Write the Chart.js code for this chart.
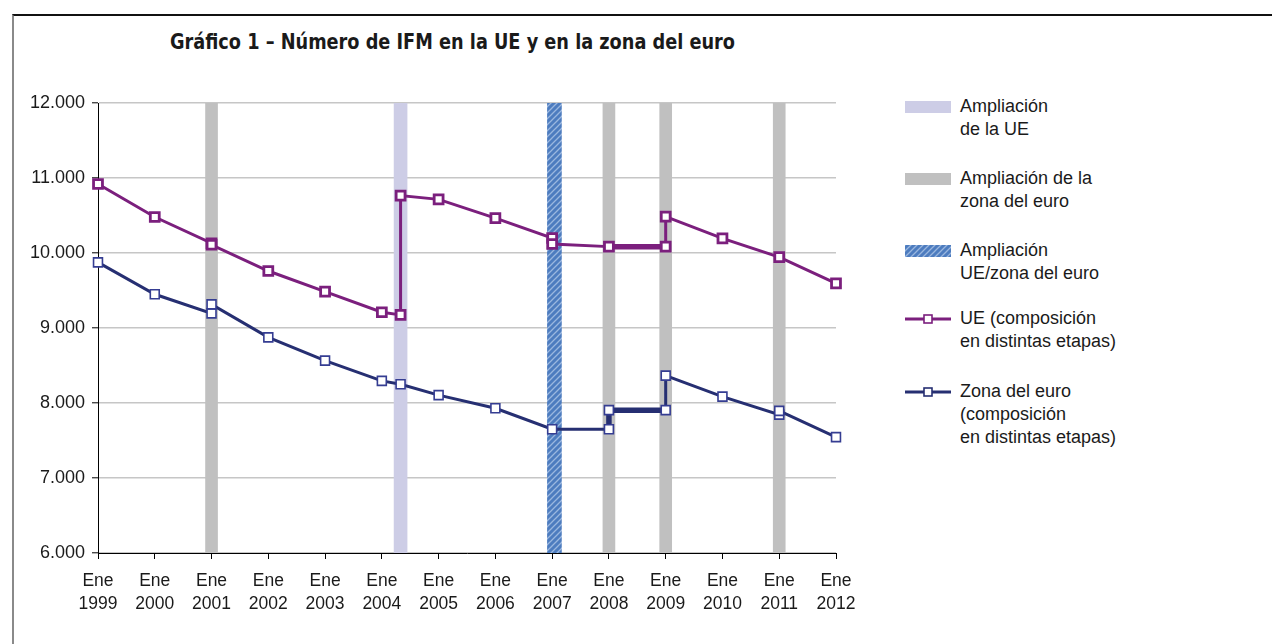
<!DOCTYPE html>
<html>
<head>
<meta charset="utf-8">
<script src="https://cdn.jsdelivr.net/npm/chart.js@4.4.1/dist/chart.umd.min.js"></script>
<style>
  html,body{margin:0;padding:0;background:#fff;}
  body{width:1272px;height:644px;position:relative;overflow:hidden;font-family:"Liberation Sans",Arial,sans-serif;color:#1a1a1a;}
  #frame{position:absolute;left:12px;top:14px;width:1280px;height:700px;border-top:2px solid #111;border-left:2px solid #8a8a8a;}
  #title{position:absolute;left:170px;top:30px;font-family:"Liberation Sans Narrow","DejaVu Sans Condensed","Liberation Sans",sans-serif;font-weight:bold;font-size:21px;white-space:nowrap;transform-origin:0 0;color:#1a1a1a;}
  #chartWrap{position:absolute;left:0;top:0;width:880px;height:644px;}
  #legend{position:absolute;left:905px;top:0;width:360px;height:644px;}
  .item{position:absolute;left:0;font-size:18px;line-height:23px;}
  .sw{position:absolute;left:0;width:46px;height:12px;}
  .txt{position:absolute;left:55px;white-space:nowrap;}
</style>
</head>
<body>
<div id="frame"></div>
<div id="title">Gráfico 1 – Número de IFM en la UE y en la zona del euro</div>
<div id="chartWrap"><canvas id="c" width="880" height="644"></canvas></div>
<div id="legend"></div>
<script>
// ---------- DATA ----------
const yearLabels = ['1999','2000','2001','2002','2003','2004','2005','2006','2007','2008','2009','2010','2011','2012'];
const yTickLabels = ['6.000','7.000','8.000','9.000','10.000','11.000','12.000'];

const ueDates  = [1999, 2000, 2001, 2001, 2002, 2003, 2004, 2004.33, 2004.33, 2005, 2006, 2007, 2007, 2008, 2009, 2009, 2010, 2011, 2012];
const ueValues = [10920, 10480, 10130, 10110, 9760, 9485, 9210, 9175, 10765, 10715, 10465, 10200, 10120, 10085, 10085, 10485, 10195, 9945, 9595];

const zonaDates  = [1999, 2000, 2001, 2001, 2002, 2003, 2004, 2004.33, 2005, 2006, 2007, 2008, 2008, 2009, 2009, 2010, 2011, 2011, 2012];
const zonaValues = [9875, 9450, 9195, 9315, 8875, 8565, 8295, 8250, 8105, 7930, 7650, 7650, 7905, 7905, 8365, 8085, 7845, 7895, 7545];

const ueEnlargements   = [2004.33];
const euroEnlargements = [2001, 2008, 2009, 2011];
const jointEnlargements = [2007.04];

const legendLabels = [
  ['Ampliación','de la UE'],
  ['Ampliación de la','zona del euro'],
  ['Ampliación','UE/zona del euro'],
  ['UE (composición','en distintas etapas)'],
  ['Zona del euro','(composición','en distintas etapas)']
];

// ---------- STYLES ----------
const C_UE = '#7b1f7d';
const C_ZONA = '#262f72';
const C_ZONA_MK = '#353d92';
const C_LAV = '#cdcde6';
const C_GRAY = '#c0c0c0';

function hatchCanvas(){
  const c = document.createElement('canvas'); c.width = 6; c.height = 6;
  const g = c.getContext('2d');
  g.fillStyle = '#4d7cbf'; g.fillRect(0,0,6,6);
  g.strokeStyle = '#9ab7df'; g.lineWidth = 1.3;
  g.beginPath();
  g.moveTo(0,6); g.lineTo(6,0);
  g.moveTo(-3,3); g.lineTo(3,-3);
  g.moveTo(3,9); g.lineTo(9,3);
  g.stroke();
  return c;
}
const hc = hatchCanvas();
const hatchPattern = hc.getContext('2d').createPattern(hc,'repeat');

const toPts = (xs, ys) => xs.map((x,i)=>({x:x, y:ys[i]}));
const barPts = xs => xs.map(x=>({x:x, y:[6000,12000]}));

const thickSeg = ctx => {
  const a = ctx.p0.parsed.x, b = ctx.p1.parsed.x;
  return (a >= 2008 && a < 2009 && b <= 2009) ? 5.5 : undefined;
};

const ctx = document.getElementById('c').getContext('2d');
new Chart(ctx, {
  data: {
    datasets: [
      {type:'bar', label:'Ampliación de la UE', data: barPts(ueEnlargements), backgroundColor:C_LAV, barThickness:13, grouped:false, order:10},
      {type:'bar', label:'Ampliación de la zona del euro', data: barPts(euroEnlargements), backgroundColor:C_GRAY, barThickness:12, grouped:false, order:10},
      {type:'bar', label:'Ampliación UE/zona del euro', data: barPts(jointEnlargements), backgroundColor:hatchPattern, barThickness:14, grouped:false, order:10},
      {type:'line', label:'UE', data: toPts(ueDates, ueValues), borderColor:C_UE, borderWidth:3, clip:false,
        pointStyle:'rect', pointRadius:6.3, pointBorderWidth:2.8, pointBackgroundColor:'#fff', pointBorderColor:C_UE,
        tension:0, order:1, segment:{borderWidth: thickSeg}},
      {type:'line', label:'Zona', data: toPts(zonaDates, zonaValues), borderColor:C_ZONA, borderWidth:3, clip:false,
        pointStyle:'rect', pointRadius:6.3, pointBorderWidth:1.6, pointBackgroundColor:'#fff', pointBorderColor:C_ZONA_MK,
        tension:0, order:0, segment:{borderWidth: thickSeg}}
    ]
  },
  options: {
    responsive:false, animation:false, devicePixelRatio:1,
    layout:{padding:{left:0, right:44, top:103, bottom:0}},
    plugins:{legend:{display:false}, tooltip:{enabled:false}, title:{display:false}},
    scales:{
      x:{type:'linear', min:1999, max:2012, offset:false,
        grid:{offset:false, drawOnChartArea:false, drawTicks:true, tickLength:6, tickColor:'#000', tickWidth:1},
        border:{color:'#000', width:1},
        ticks:{stepSize:1, autoSkip:false, maxRotation:0, padding:11, color:'#1a1a1a',
          font:{family:'"Liberation Sans", Arial, sans-serif', size:17.5, lineHeight:1.32},
          callback:(v)=>{ const i = yearLabels.indexOf(String(Math.round(v))); return i>=0 ? ['Ene', yearLabels[i]] : ''; }},
        afterFit:(s)=>{ s.height = 91; }
      },
      y:{type:'linear', min:6000, max:12000,
        grid:{color:'#c6c6c6', lineWidth:1.6, drawTicks:true, tickLength:6, tickColor:'#000', tickWidth:1},
        border:{color:'#000', width:1},
        ticks:{stepSize:1000, padding:7, color:'#1a1a1a',
          font:{family:'"Liberation Sans", Arial, sans-serif', size:18},
          callback:(v)=>{ const i = Math.round((v-6000)/1000); return yTickLabels[i] ?? ''; }},
        afterFit:(s)=>{ s.width = 98; }
      }
    }
  }
});

// ---------- LEGEND (HTML) ----------
const lg = document.getElementById('legend');
const tops = [95, 167, 239, 307, 380];
const hatchURL = hc.toDataURL();
function lineSwatch(col, bw){
  return `<svg width="48" height="14" style="position:absolute;left:0;top:5px"><line x1="0" y1="7" x2="46" y2="7" stroke="${col}" stroke-width="2.8"/><rect x="19" y="3" width="8" height="8" fill="#fff" stroke="${col}" stroke-width="${bw}"/></svg>`;
}
legendLabels.forEach((lines, k)=>{
  const d = document.createElement('div');
  d.className = 'item'; d.style.top = tops[k]+'px';
  let sw = '';
  if (k===0) sw = `<div class="sw" style="top:6px;background:${C_LAV}"></div>`;
  if (k===1) sw = `<div class="sw" style="top:6px;background:${C_GRAY}"></div>`;
  if (k===2) sw = `<div class="sw" style="top:6px;background-image:url(${hatchURL})"></div>`;
  if (k===3) sw = lineSwatch(C_UE, 1.6);
  if (k===4) sw = lineSwatch(C_ZONA, 1.6);
  d.innerHTML = sw + `<div class="txt">${lines.join('<br>')}</div>`;
  lg.appendChild(d);
});

// fit title width
const t = document.getElementById('title');
const w = t.getBoundingClientRect().width;
t.style.transform = `scaleX(${565 / w})`;
</script>
</body>
</html>
